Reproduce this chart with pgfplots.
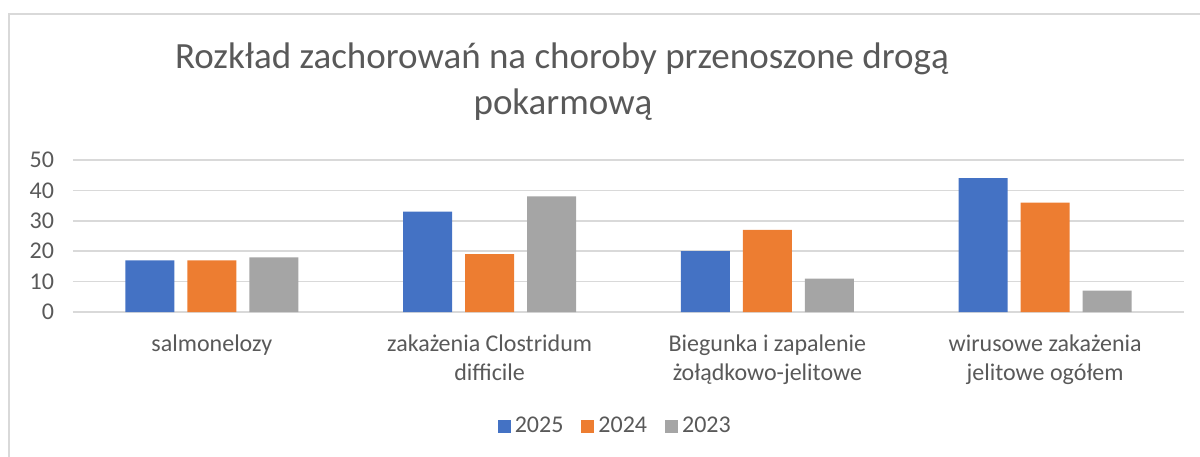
\documentclass[border=0pt]{standalone}
\usepackage{fontspec}
\setmainfont{Carlito}
\usepackage{pgfplots}
\pgfplotsset{compat=1.18}
\definecolor{cblue}{HTML}{4472C4}
\definecolor{corange}{HTML}{ED7D31}
\definecolor{cgray}{HTML}{A5A5A5}
\definecolor{gridgray}{HTML}{D9D9D9}
\definecolor{txt}{HTML}{595959}
\begin{document}
\begin{tikzpicture}[x=1pt,y=1pt]
\path[use as bounding box] (0,0) rectangle (600,228);
\draw[color=gridgray, line width=1pt] (4.5,-10) rectangle (610,221);
\node[anchor=base, text=txt, font=\fontsize{18.5}{22}\selectfont, inner sep=0pt] at (281,193.5) {Rozkład zachorowań na choroby przenoszone drogą};
\node[anchor=base, text=txt, font=\fontsize{18.5}{22}\selectfont, inner sep=0pt] at (281.5,170.5) {pokarmową};
\begin{axis}[
  at={(36.5pt,72pt)}, anchor=south west,
  scale only axis, width=555.5pt, height=76pt,
  ymin=0, ymax=50, xmin=-0.5, xmax=3.5,
  xtick={0,1,2,3},
  xticklabels={salmonelozy, {zakażenia Clostridum\\difficile}, {Biegunka i zapalenie\\żołądkowo-jelitowe}, {wirusowe zakażenia\\jelitowe ogółem}},
  ytick={0,10,20,30,40,50},
  ymajorgrids, grid style={color=gridgray, line width=0.75pt},
  axis line style={draw=none}, tick style={draw=none},
  /pgf/number format/assume math mode=true,
  ticklabel style={text=txt, font=\fontsize{12}{14.5}\selectfont},
  xticklabel style={align=center, yshift=-3.5pt},
  yticklabel style={xshift=-6pt},
  ybar=6.5pt, bar width=24.5pt,
  legend style={at={(0.489,-0.75)}, anchor=center, draw=none, legend columns=3,
    font=\fontsize{12}{14}\selectfont, text=txt,
    /tikz/every even column/.append style={column sep=7pt}},
  legend image code/.code={\fill[#1] (0pt,-3.25pt) rectangle (6.5pt,3.25pt);},
]
\addplot[fill=cblue, draw=none] coordinates {(0,17) (1,33) (2,20) (3,44)};
\addplot[fill=corange, draw=none] coordinates {(0,17) (1,19) (2,27) (3,36)};
\addplot[fill=cgray, draw=none] coordinates {(0,18) (1,38) (2,11) (3,7)};
\legend{2025,2024,2023}
\end{axis}
\end{tikzpicture}
\end{document}
